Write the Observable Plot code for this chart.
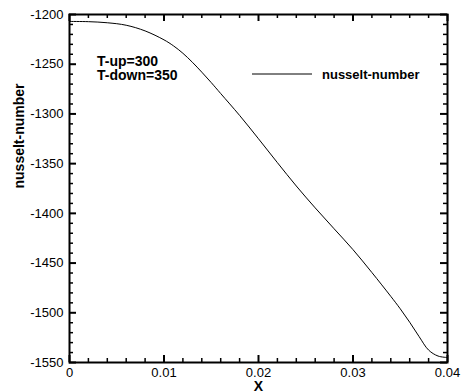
<!DOCTYPE html>
<html>
<head>
<meta charset="utf-8">
<script src="https://cdn.jsdelivr.net/npm/d3@7"></script>
<script src="https://cdn.jsdelivr.net/npm/@observablehq/plot@0.6"></script>
<style>
  html, body { margin: 0; padding: 0; background: #fff; }
  svg { display: block; }
</style>
</head>
<body>
<div id="chart"></div>
<script>
// ---- data ----
const xValues = [0, 0.002, 0.004, 0.006, 0.008, 0.010, 0.011, 0.012, 0.013, 0.014, 0.015, 0.016, 0.018, 0.020, 0.022, 0.024, 0.026, 0.028, 0.030, 0.032, 0.034, 0.035, 0.036, 0.037, 0.038, 0.039, 0.040];
const nusselt = [-1207, -1207.2, -1208.3, -1210.8, -1216.5, -1225.5, -1231.5, -1239, -1248, -1258, -1268.5, -1279.5, -1301.5, -1325, -1349, -1372.5, -1394.5, -1415.5, -1436.5, -1459.5, -1483.5, -1496, -1509.5, -1524, -1537.5, -1543.5, -1545];
const xMajorTicks = [0, 0.01, 0.02, 0.03, 0.04];
const xMinorTicks = [0.002, 0.004, 0.006, 0.008, 0.012, 0.014, 0.016, 0.018, 0.022, 0.024, 0.026, 0.028, 0.032, 0.034, 0.036, 0.038];
const yMajorTicks = [-1550, -1500, -1450, -1400, -1350, -1300, -1250, -1200];
const yMinorTicks = d3.range(-1540, -1200, 10).filter(v => v % 50 !== 0);
const seriesName = "nusselt-number";
const xLabel = "X";
const yLabel = "nusselt-number";
const annotationLines = ["T-up=300", "T-down=350"];

const rows = xValues.map((x, i) => ({x, y: nusselt[i]}));

// ---- layout ----
const W = 461, H = 392;
const mL = 69, mR = 14, mT = 14, mB = 30;
const pw = W - mL - mR, ph = H - mT - mB;
const major = 7, minor = 4;
const font = "'Liberation Sans', Arial, Helvetica, sans-serif";

const legendLine = (index, scales, values, dims) => {
  const g = d3.create("svg:g");
  g.append("line")
    .attr("x1", dims.marginLeft + 183).attr("x2", dims.marginLeft + 243)
    .attr("y1", dims.marginTop + 60).attr("y2", dims.marginTop + 60)
    .attr("stroke", "#000").attr("stroke-width", 1);
  return g.node();
};

const chart = Plot.plot({
  width: W, height: H,
  marginLeft: mL, marginRight: mR, marginTop: mT, marginBottom: mB,
  style: {fontFamily: font, fontSize: "13px", background: "#fff", color: "#000"},
  x: {domain: [0, 0.04]},
  y: {domain: [-1550, -1200]},
  marks: [
    Plot.line(rows, {x: "x", y: "y", stroke: "#000", strokeWidth: 1, curve: "catmull-rom"}),
    // inward ticks, all four sides
    Plot.tickX(xMajorTicks, {x: d => d, insetTop: ph - major, stroke: "#000", strokeWidth: 2}),
    Plot.tickX(xMinorTicks, {x: d => d, insetTop: ph - minor, stroke: "#000", strokeWidth: 1.5}),
    Plot.tickX(xMajorTicks, {x: d => d, insetBottom: ph - major, stroke: "#000", strokeWidth: 2}),
    Plot.tickX(xMinorTicks, {x: d => d, insetBottom: ph - minor, stroke: "#000", strokeWidth: 1.5}),
    Plot.tickY(yMajorTicks, {y: d => d, insetRight: pw - major, stroke: "#000", strokeWidth: 2}),
    Plot.tickY(yMinorTicks, {y: d => d, insetRight: pw - minor, stroke: "#000", strokeWidth: 1.5}),
    Plot.tickY(yMajorTicks, {y: d => d, insetLeft: pw - major, stroke: "#000", strokeWidth: 2}),
    Plot.tickY(yMinorTicks, {y: d => d, insetLeft: pw - minor, stroke: "#000", strokeWidth: 1.5}),
    Plot.frame({stroke: "#000", strokeWidth: 2}),
    Plot.axisX(xMajorTicks, {anchor: "bottom", tickSize: 0, tickPadding: 5, tickFormat: d => String(d), fontSize: 13, label: null}),
    Plot.axisY(yMajorTicks, {anchor: "left", tickSize: 0, tickPadding: 6, tickFormat: d => String(d), fontSize: 13, label: null}),
    Plot.text([xLabel], {frameAnchor: "bottom", dy: 24, text: d => d, fontWeight: "bold", fontSize: 14, lineAnchor: "middle"}),
    Plot.text([yLabel], {frameAnchor: "left", dx: -50, rotate: -90, text: d => d, fontWeight: "bold", fontSize: 14, lineAnchor: "middle"}),
    Plot.text([annotationLines[0]], {frameAnchor: "top-left", dx: 27.5, dy: 47.5, text: d => d, textAnchor: "start", lineAnchor: "middle", fontWeight: "bold", fontSize: 14}),
    Plot.text([annotationLines[1]], {frameAnchor: "top-left", dx: 27.5, dy: 61, text: d => d, textAnchor: "start", lineAnchor: "middle", fontWeight: "bold", fontSize: 14}),
    legendLine,
    Plot.text([seriesName], {frameAnchor: "top-left", dx: 252.5, dy: 60, text: d => d, textAnchor: "start", lineAnchor: "middle", fontWeight: "bold", fontSize: 13})
  ]
});
document.getElementById("chart").appendChild(chart);
</script>
</body>
</html>
